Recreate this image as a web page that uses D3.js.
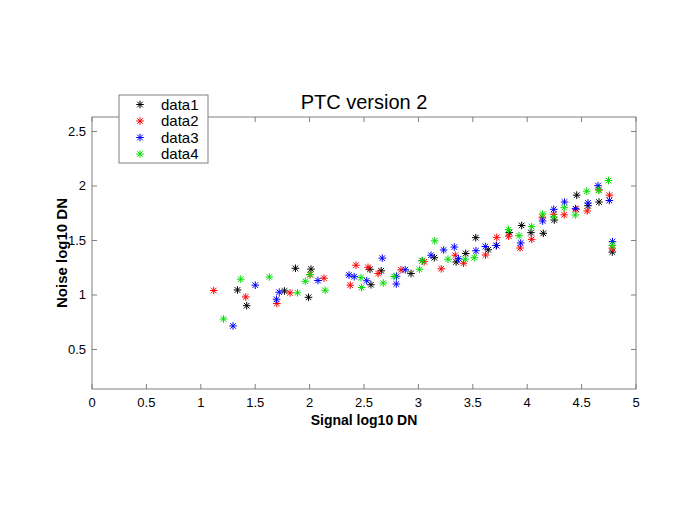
<!DOCTYPE html>
<html>
<head>
<meta charset="utf-8">
<script src="https://cdn.jsdelivr.net/npm/d3@7"></script>
<style>
  body { margin: 0; background: #fff; }
  svg { font-family: "Liberation Sans", Arial, sans-serif; }
</style>
</head>
<body>
<svg id="chart" width="700" height="525"></svg>
<script>
const seriesNames = ["data1", "data2", "data3", "data4"];
const seriesColors = ["#000000", "#ff0000", "#0000ff", "#00dd00"];
const xTicks = [0, 0.5, 1, 1.5, 2, 2.5, 3, 3.5, 4, 4.5, 5];
const yTicks = [0.5, 1, 1.5, 2, 2.5];

const data1 = [
  [1.337,1.046],[1.422,0.902],[1.870,1.245],[1.769,1.037],[1.990,0.979],[2.013,1.237],
  [2.555,1.236],[2.658,1.222],[2.564,1.094],[2.932,1.197],[3.036,1.315],[3.146,1.342],
  [3.347,1.303],[3.435,1.381],[3.527,1.526],[3.642,1.415],[3.718,1.454],[3.835,1.573],
  [3.949,1.638],[4.035,1.572],[4.148,1.566],[4.249,1.688],[4.455,1.916],[4.559,1.819],
  [4.660,1.853],[4.782,1.394]
];
const data2 = [
  [1.119,1.041],[1.413,0.982],[1.820,1.020],[1.699,0.922],[2.004,1.186],[2.132,1.154],
  [2.426,1.273],[2.537,1.254],[2.630,1.197],[2.374,1.090],[2.840,1.231],[3.053,1.305],
  [3.210,1.240],[3.339,1.365],[3.415,1.292],[3.617,1.367],[3.720,1.529],[3.830,1.539],
  [3.934,1.431],[4.041,1.511],[4.139,1.713],[4.244,1.740],[4.340,1.736],[4.449,1.786],
  [4.552,1.771],[4.660,1.966],[4.756,1.916],[4.782,1.430]
];
const data3 = [
  [1.296,0.716],[1.501,1.090],[1.721,1.026],[1.696,0.961],[2.077,1.133],[2.362,1.183],
  [2.410,1.168],[2.525,1.131],[2.668,1.338],[2.879,1.232],[2.799,1.172],[2.797,1.101],
  [3.116,1.365],[3.232,1.413],[3.330,1.440],[3.369,1.333],[3.529,1.406],[3.615,1.445],
  [3.715,1.454],[3.940,1.477],[4.142,1.679],[4.244,1.786],[4.343,1.853],[4.444,1.792],
  [4.559,1.844],[4.651,2.003],[4.755,1.867],[4.784,1.489]
];
const data4 = [
  [1.209,0.780],[1.367,1.145],[1.630,1.165],[1.889,1.020],[1.960,1.126],[2.004,1.188],
  [2.143,1.043],[2.472,1.159],[2.477,1.069],[2.677,1.110],[2.776,1.170],[3.010,1.236],
  [3.036,1.315],[3.150,1.497],[3.272,1.328],[3.431,1.328],[3.514,1.342],[3.828,1.599],
  [3.925,1.544],[4.041,1.627],[4.142,1.743],[4.244,1.716],[4.340,1.801],[4.442,1.734],
  [4.547,1.952],[4.657,1.961],[4.747,2.050],[4.782,1.455]
];
const allSeries = [data1, data2, data3, data4];

const svg = d3.select("#chart");
const L = 92, R = 636, T = 117, B = 389;
const x = d3.scaleLinear().domain([0, 5]).range([L, R]);
const y = d3.scaleLinear().domain([0.1376, 2.633]).range([B, T]);
const axisColor = "#808080";

svg.append("rect").attr("x", L).attr("y", T).attr("width", R - L).attr("height", B - T)
  .attr("fill", "#fff").attr("stroke", axisColor).attr("stroke-width", 1);

const tl = 5;
const gx = svg.append("g");
xTicks.forEach(t => {
  const px = x(t);
  gx.append("line").attr("x1", px).attr("x2", px).attr("y1", B).attr("y2", B - tl).attr("stroke", axisColor);
  gx.append("line").attr("x1", px).attr("x2", px).attr("y1", T).attr("y2", T + tl).attr("stroke", axisColor);
  gx.append("text").attr("x", px).attr("y", B + 18).attr("text-anchor", "middle")
    .attr("font-size", 13).attr("fill", "#000").text(t);
});
const gy = svg.append("g");
yTicks.forEach(t => {
  const py = y(t);
  gy.append("line").attr("x1", L).attr("x2", L + tl).attr("y1", py).attr("y2", py).attr("stroke", axisColor);
  gy.append("line").attr("x1", R).attr("x2", R - tl).attr("y1", py).attr("y2", py).attr("stroke", axisColor);
  gy.append("text").attr("x", L - 6).attr("y", py + 4.5).attr("text-anchor", "end")
    .attr("font-size", 13).attr("fill", "#000").text(t);
});

function star(g, cx, cy, color) {
  const a = 3.8, d = 2.8;
  return g.append("path")
    .attr("d", `M${cx - a},${cy}L${cx + a},${cy}M${cx},${cy - a}L${cx},${cy + a}` +
               `M${cx - d},${cy - d}L${cx + d},${cy + d}M${cx - d},${cy + d}L${cx + d},${cy - d}`)
    .attr("stroke", color).attr("stroke-width", 1).attr("fill", "none");
}

const gp = svg.append("g");
allSeries.forEach((s, i) => {
  s.forEach(d => star(gp, x(d[0]), y(d[1]), seriesColors[i]));
});

svg.append("text").attr("x", (L + R) / 2).attr("y", 109).attr("text-anchor", "middle")
  .attr("font-size", 20).attr("fill", "#000").text("PTC version 2");
svg.append("text").attr("x", (L + R) / 2).attr("y", 425).attr("text-anchor", "middle")
  .attr("font-size", 14).attr("font-weight", "bold").attr("fill", "#000").text("Signal log10 DN");
svg.append("text").attr("transform", `translate(67,${(T + B) / 2}) rotate(-90)`)
  .attr("text-anchor", "middle").attr("font-size", 15).attr("font-weight", "bold")
  .attr("fill", "#000").text("Noise log10 DN");

const lg = svg.append("g");
lg.append("rect").attr("x", 119).attr("y", 95).attr("width", 89).attr("height", 68)
  .attr("fill", "#fff").attr("stroke", axisColor);
seriesNames.forEach((n, i) => {
  const ry = 104.5 + i * 16.5;
  star(lg, 140, ry, seriesColors[i]);
  lg.append("text").attr("x", 161).attr("y", ry + 5).attr("font-size", 15)
    .attr("fill", "#000").text(n);
});
</script>
</body>
</html>
